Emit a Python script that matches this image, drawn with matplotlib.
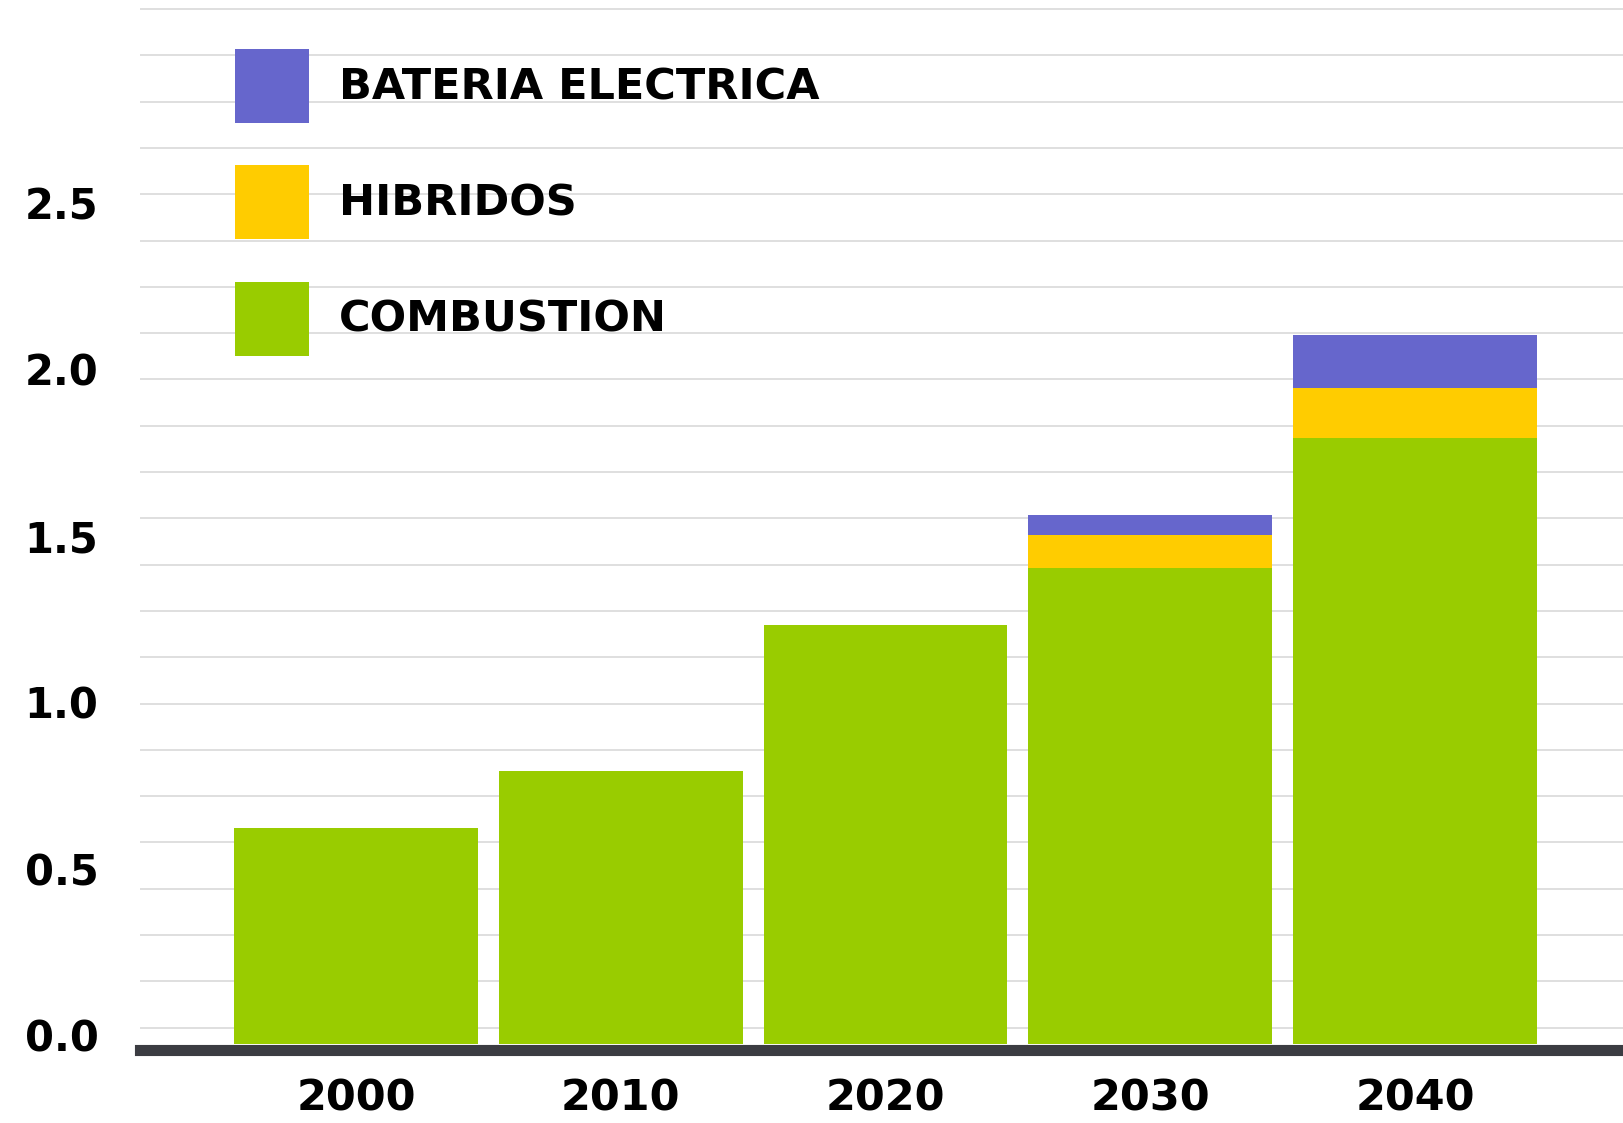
import numpy as np
import matplotlib
matplotlib.use('Agg')
import matplotlib.pyplot as plt

# Data
years = ['2000', '2010', '2020', '2030', '2040']
combustion = [0.65, 0.82, 1.26, 1.43, 1.82]
hybrid = [0.0, 0.0, 0.0, 0.10, 0.15]
battery = [0.0, 0.0, 0.0, 0.06, 0.16]
series_names = ['COMBUSTION', 'HIBRIDOS', 'BATERIA ELECTRICA']
ytick_values = [0.0, 0.5, 1.0, 1.5, 2.0, 2.5]

plt.rcParams['font.family'] = 'DejaVu Sans'
plt.rcParams['font.weight'] = 'bold'

fig = plt.figure(figsize=(16.23, 11.23), dpi=100)
ax = fig.add_axes([140 / 1623, 1 - 1044 / 1123, 1 - 140 / 1623, 1044 / 1123])

# spines first: moving a spine resets the ticks
for s in ['top', 'right', 'left']:
    ax.spines[s].set_visible(False)
ax.spines['bottom'].set_color('#3b3c42')
ax.spines['bottom'].set_linewidth(8)
ax.spines['bottom'].set_position(('outward', 4))

x = np.arange(len(years))
width = 0.92
bottom2 = np.array(combustion) + np.array(hybrid)

b1 = ax.bar(x, combustion, width, color='#99cc00', label=series_names[0], zorder=2)
b2 = ax.bar(x, hybrid, width, bottom=combustion, color='#ffcc00', label=series_names[1], zorder=2)
b3 = ax.bar(x, battery, width, bottom=bottom2, color='#6666cc', label=series_names[2], zorder=2)

# light horizontal rules (not tied to the tick labels in the original)
for g in np.linspace(0.049, 3.109, 23):
    ax.axhline(g, color='#d9d9d9', lw=1.2, zorder=1)

ax.set_xlim(-0.816, 4.786)
ax.set_ylim(0, 3.136)

ax.set_xticks(x)
ax.set_xticklabels(years, fontsize=31, fontweight='bold')
# labels sit slightly above the true values in the original
ax.set_yticks([v + 0.027 for v in ytick_values])
ax.set_yticklabels(['%.1f' % v for v in ytick_values], fontsize=30, fontweight='bold', ha='left')
ax.tick_params(axis='y', length=0, pad=83)
ax.tick_params(axis='x', length=0, pad=20)

fig.legend([b3, b2, b1], series_names[::-1], loc='upper left',
           bbox_to_anchor=(235 / 1623, 1 - 49 / 1123), frameon=False,
           prop={'weight': 'bold', 'size': 31},
           handlelength=1.72, handleheight=2.27, handletextpad=0.70,
           labelspacing=0.98, borderpad=0, borderaxespad=0)

fig.savefig('out.png', dpi=100)
